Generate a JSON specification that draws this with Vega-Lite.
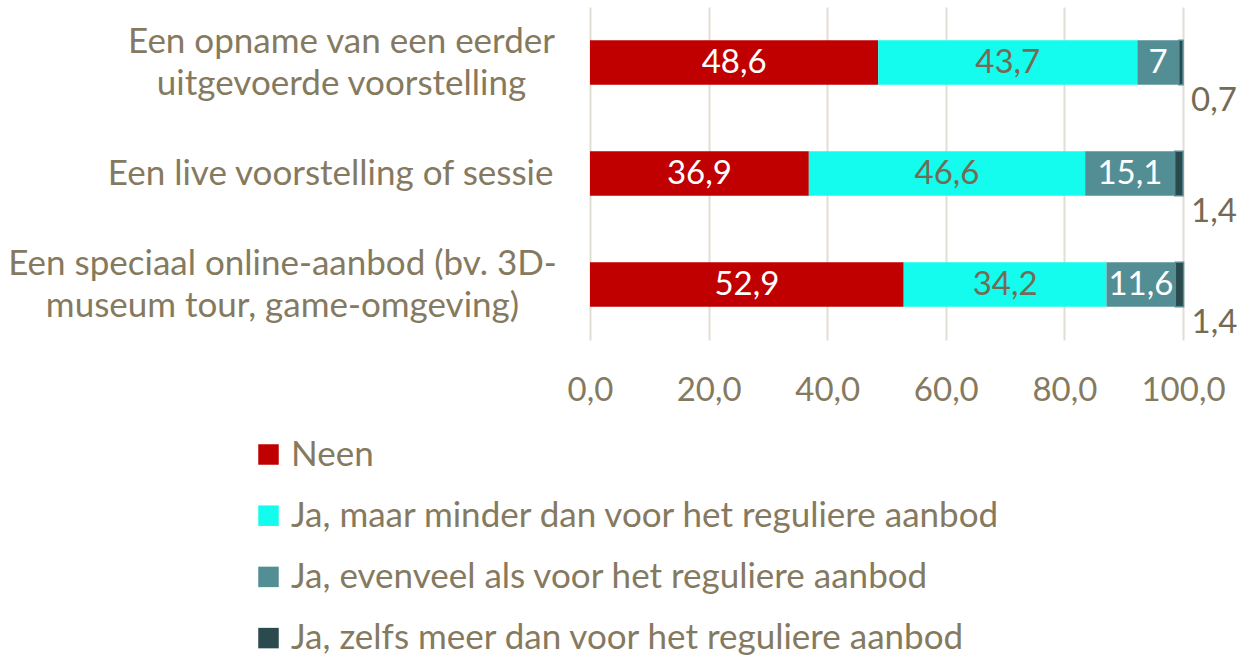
{
  "$schema": "https://vega.github.io/schema/vega-lite/v6.json",
  "autosize": {"type": "none"},
  "width": 593,
  "height": 333,
  "padding": {"left": 590, "top": 7, "right": 60, "bottom": 318},
  "background": "white",
  "config": {
    "font": "Lato",
    "view": {"stroke": null}
  },
  "data": {
    "values": [
      {"category": "Een opname van een eerder|uitgevoerde voorstelling", "answer": "Neen", "order": 1, "value": 48.6},
      {"category": "Een opname van een eerder|uitgevoerde voorstelling", "answer": "Ja, maar minder dan voor het reguliere aanbod", "order": 2, "value": 43.7},
      {"category": "Een opname van een eerder|uitgevoerde voorstelling", "answer": "Ja, evenveel als voor het reguliere aanbod", "order": 3, "value": 7},
      {"category": "Een opname van een eerder|uitgevoerde voorstelling", "answer": "Ja, zelfs meer dan voor het reguliere aanbod", "order": 4, "value": 0.7},
      {"category": "Een live voorstelling of sessie", "answer": "Neen", "order": 1, "value": 36.9},
      {"category": "Een live voorstelling of sessie", "answer": "Ja, maar minder dan voor het reguliere aanbod", "order": 2, "value": 46.6},
      {"category": "Een live voorstelling of sessie", "answer": "Ja, evenveel als voor het reguliere aanbod", "order": 3, "value": 15.1},
      {"category": "Een live voorstelling of sessie", "answer": "Ja, zelfs meer dan voor het reguliere aanbod", "order": 4, "value": 1.4},
      {"category": "Een speciaal online-aanbod (bv. 3D-|museum tour, game-omgeving)", "answer": "Neen", "order": 1, "value": 52.9},
      {"category": "Een speciaal online-aanbod (bv. 3D-|museum tour, game-omgeving)", "answer": "Ja, maar minder dan voor het reguliere aanbod", "order": 2, "value": 34.2},
      {"category": "Een speciaal online-aanbod (bv. 3D-|museum tour, game-omgeving)", "answer": "Ja, evenveel als voor het reguliere aanbod", "order": 3, "value": 11.6},
      {"category": "Een speciaal online-aanbod (bv. 3D-|museum tour, game-omgeving)", "answer": "Ja, zelfs meer dan voor het reguliere aanbod", "order": 4, "value": 1.4}
    ]
  },
  "transform": [
    {"stack": "value", "groupby": ["category"], "sort": [{"field": "order"}], "as": ["x0", "x1"]},
    {"calculate": "(datum.x0 + datum.x1) / 2", "as": "mid"},
    {"calculate": "replace(toString(datum.value), '.', ',')", "as": "label"}
  ],
  "encoding": {
    "y": {
      "field": "category",
      "type": "nominal",
      "sort": null,
      "title": null,
      "scale": {"paddingInner": 0.6, "paddingOuter": 0.3},
      "axis": {
        "domain": false,
        "ticks": false,
        "labelFontSize": 35,
        "labelColor": "#857A60",
        "labelLimit": 700,
        "labelLineHeight": 42,
        "labelAlign": {"condition": {"test": "indexof(datum.value, '|') >= 0", "value": "center"}, "value": "right"},
        "labelPadding": {
          "condition": [
            {"test": "datum.value == 'Een opname van een eerder|uitgevoerde voorstelling'", "value": 249},
            {"test": "datum.value == 'Een speciaal online-aanbod (bv. 3D-|museum tour, game-omgeving)'", "value": 308}
          ],
          "value": 37
        },
        "labelOffset": {"condition": {"test": "indexof(datum.value, '|') >= 0", "value": -21}, "value": 0},
        "labelExpr": "split(datum.label, '|')"
      }
    }
  },
  "layer": [
    {
      "mark": {"type": "bar"},
      "encoding": {
        "x": {
          "field": "x0",
          "type": "quantitative",
          "scale": {"domain": [0, 100], "nice": false},
          "title": null,
          "axis": {
            "values": [0, 20, 40, 60, 80, 100],
            "domain": false,
            "ticks": false,
            "grid": true,
            "gridColor": "#E3DED4",
            "gridWidth": 2,
            "labelFlush": false,
            "labelFontSize": 33,
            "labelColor": "#857A60",
            "labelPadding": 34,
            "labelExpr": "replace(format(datum.value, '.1f'), '.', ',')"
          }
        },
        "x2": {"field": "x1"},
        "stroke": {"condition": {"test": "datum.order == 4", "value": "#548E95"}, "value": null},
        "strokeWidth": {"value": 1.5},
        "color": {
          "field": "answer",
          "type": "nominal",
          "sort": ["Neen", "Ja, maar minder dan voor het reguliere aanbod", "Ja, evenveel als voor het reguliere aanbod", "Ja, zelfs meer dan voor het reguliere aanbod"],
          "scale": {
            "domain": ["Neen", "Ja, maar minder dan voor het reguliere aanbod", "Ja, evenveel als voor het reguliere aanbod", "Ja, zelfs meer dan voor het reguliere aanbod"],
            "range": ["#C00000", "#14FCEE", "#548E95", "#2B4A4E"]
          },
          "legend": {
            "title": null,
            "orient": "none",
            "legendX": -339,
            "legendY": 430,
            "direction": "vertical",
            "symbolType": "square",
            "symbolSize": 420,
            "symbolStrokeWidth": 0,
            "labelFontSize": 35,
            "labelColor": "#857A60",
            "labelOffset": 5,
            "labelLimit": 900,
            "rowPadding": 25.2
          }
        }
      }
    },
    {
      "transform": [{"filter": "datum.order < 4"}],
      "mark": {"type": "text", "fontSize": 33, "baseline": "middle", "align": "center"},
      "encoding": {
        "x": {"field": "mid", "type": "quantitative"},
        "text": {"field": "label"},
        "color": {
          "condition": {"test": "datum.order == 2", "value": "#756B55"},
          "value": "white"
        }
      }
    },
    {
      "transform": [{"filter": "datum.order == 4"}],
      "mark": {"type": "text", "fontSize": 33, "baseline": "middle", "align": "left", "dx": 8, "dy": 38},
      "encoding": {
        "x": {"field": "x1", "type": "quantitative"},
        "text": {"field": "label"},
        "color": {"value": "#756B55"}
      }
    }
  ]
}
